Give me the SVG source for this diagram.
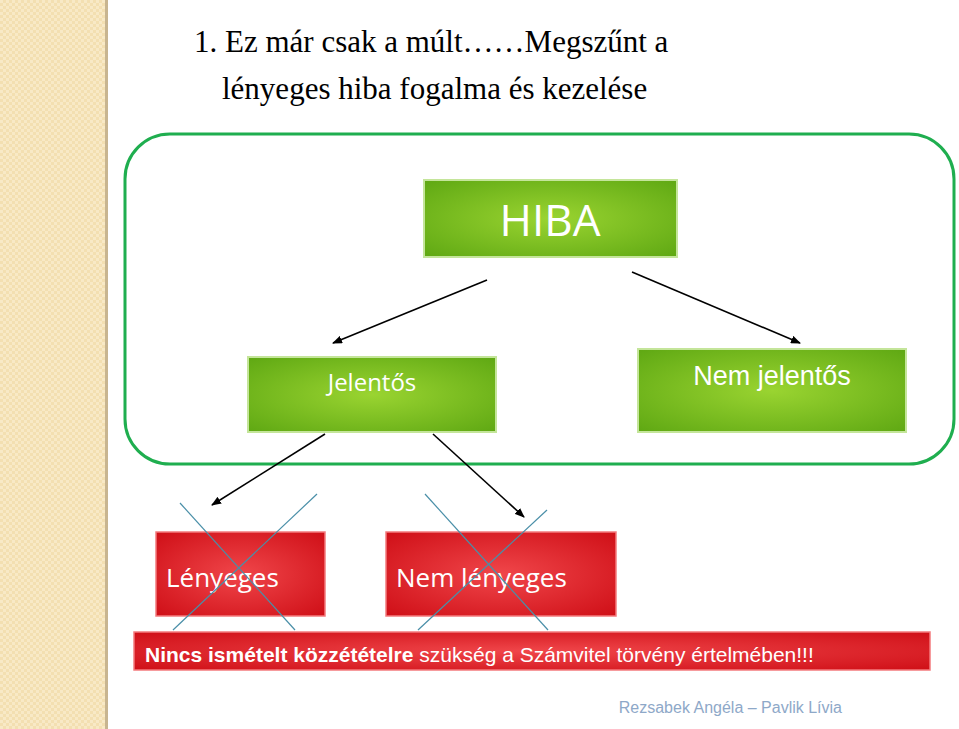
<svg xmlns="http://www.w3.org/2000/svg" width="959" height="729" viewBox="0 0 959 729">
<defs>
<pattern id="chk" width="6" height="6" patternUnits="userSpaceOnUse"><rect width="6" height="6" fill="#f3dfb1"/><rect width="3" height="3" fill="#f8e9c6"/><rect x="3" y="3" width="3" height="3" fill="#f8e9c6"/></pattern>
<radialGradient id="gg" cx="0.5" cy="0.5" r="0.7"><stop offset="0" stop-color="#9ad431"/><stop offset="1" stop-color="#5fa813"/></radialGradient>
<radialGradient id="rg" cx="0.5" cy="0.5" r="0.7"><stop offset="0" stop-color="#f0464a"/><stop offset="1" stop-color="#cf0f17"/></radialGradient>
<marker id="ar" markerWidth="10" markerHeight="8" refX="9" refY="4" orient="auto" markerUnits="userSpaceOnUse"><path d="M0,0 L10,4 L0,8 z" fill="#000"/></marker>
<style>
.g{fill:url(#gg);stroke:#c4e59a;stroke-width:2}
.r{fill:url(#rg);stroke:#f47b7e;stroke-width:1.5}
.t{font-family:"Open Sans","Noto Sans",sans-serif;fill:#fff}
.c{stroke:#000;stroke-width:1.6;marker-end:url(#ar)}
.x{stroke:#4a8fa8;stroke-width:1.2}
</style>
</defs>
<rect width="959" height="729" fill="#fff"/>
<rect width="105" height="729" fill="url(#chk)"/>
<rect x="105" width="3" height="729" fill="#c8b590"/>
<g font-family="Liberation Serif,serif" font-size="31" fill="#000">
<text x="194" y="52">1. Ez már csak a múlt……Megszűnt a</text>
<text x="222" y="99">lényeges hiba fogalma és kezelése</text>
</g>
<rect id="frame" x="125" y="134" width="829" height="330" rx="45" fill="none" stroke="#1fae4f" stroke-width="3"/>
<g id="hiba"><rect class="g" x="424" y="180" width="253" height="77"/><text class="t" x="550" y="236" font-size="44" text-anchor="middle">HIBA</text></g>
<g id="jelentos"><rect class="g" x="248" y="357" width="248" height="75"/><text class="t" x="372" y="391" font-size="24" text-anchor="middle">Jelentős</text></g>
<g id="nemjelentos"><rect class="g" x="638" y="349" width="268" height="83"/><text x="772" y="385" font-family="Liberation Sans,Arial,sans-serif" font-size="27" fill="#fff" text-anchor="middle">Nem jelentős</text></g>
<g id="lenyeges"><rect class="r" x="156" y="532" width="169" height="84"/><text class="t" x="166" y="587" font-size="26">Lényeges</text></g>
<g id="nemlenyeges"><rect class="r" x="386" y="532" width="230" height="84"/><text class="t" x="396" y="587" font-size="26">Nem lényeges</text></g>
<g id="connectors">
<line class="c" x1="487" y1="280" x2="333" y2="343"/>
<line class="c" x1="632" y1="272" x2="800" y2="343"/>
<line class="c" x1="325" y1="434" x2="212" y2="505"/>
<line class="c" x1="433" y1="434" x2="524" y2="517"/>
</g>
<g id="crosses">
<line class="x" x1="180" y1="503" x2="295" y2="630"/>
<line class="x" x1="317" y1="494" x2="173" y2="630"/>
<line class="x" x1="425" y1="494" x2="548" y2="630"/>
<line class="x" x1="547" y1="510" x2="418" y2="630"/>
</g>
<g id="banner"><rect class="r" x="134" y="632" width="796" height="38"/>
<text x="145" y="662" font-family="Liberation Sans,Arial,sans-serif" font-size="21" fill="#fff"><tspan font-weight="bold">Nincs ismételt közzétételre</tspan> szükség a Számvitel törvény értelmében!!!</text></g>
<text x="842" y="713" font-family="Liberation Sans,Arial,sans-serif" font-size="16" fill="#8ea8c8" text-anchor="end">Rezsabek Angéla – Pavlik Lívia</text>
</svg>
